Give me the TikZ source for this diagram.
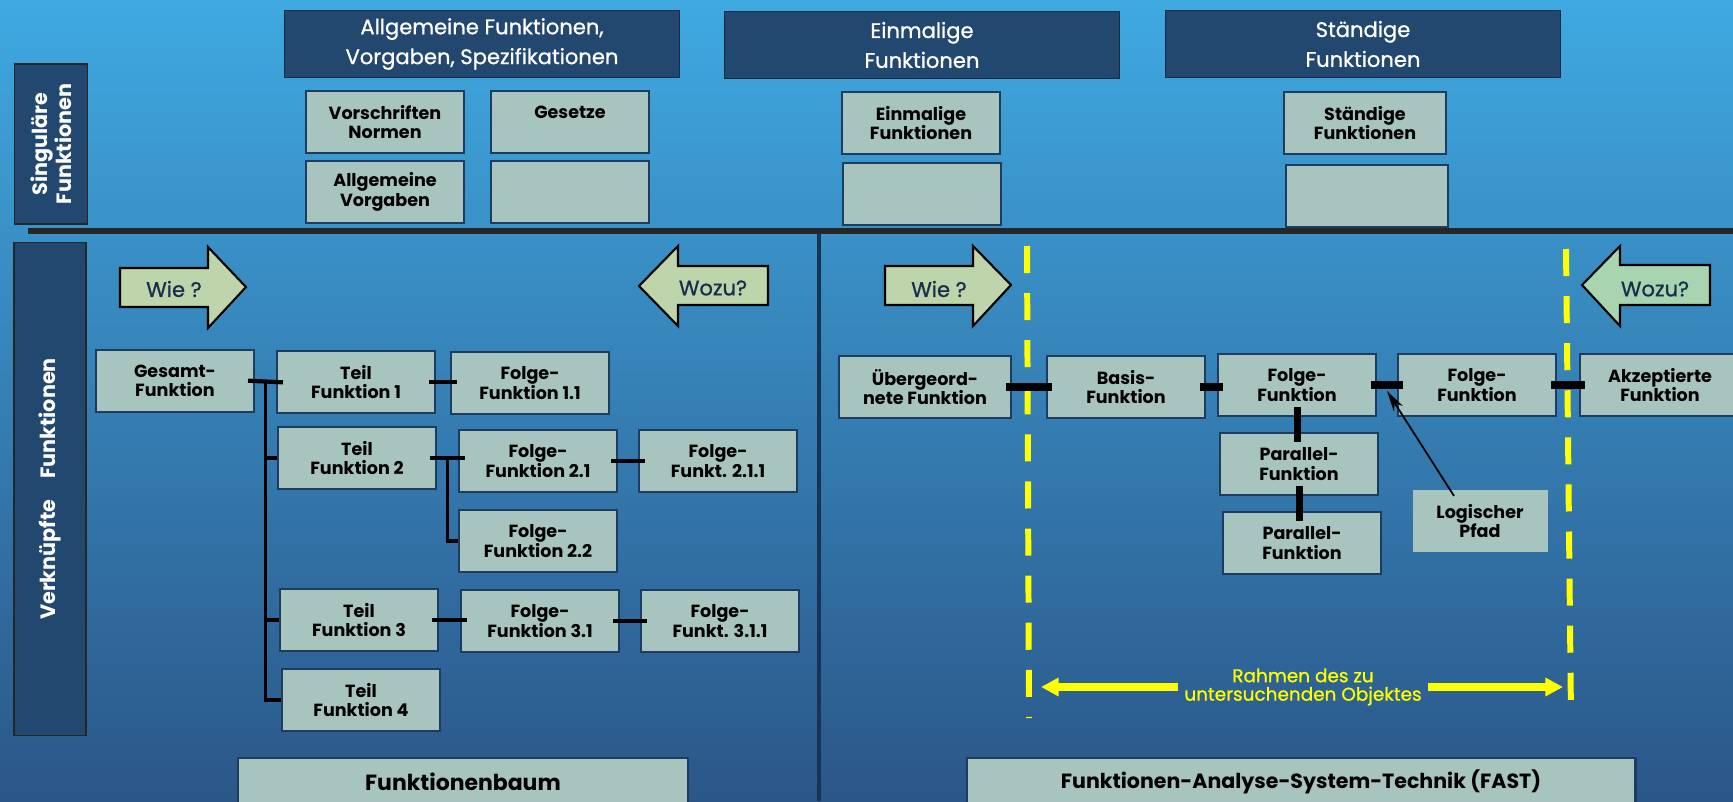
\documentclass[tikz,border=0pt]{standalone}
\usepackage{fontspec}
\setmainfont{Poppins}
\newfontfamily\mittel{Poppins}[FakeBold=0.9]
\usetikzlibrary{calc,arrows.meta}
\definecolor{hgoben}{HTML}{3FA9E1}
\definecolor{hgunten}{HTML}{2B5688}
\definecolor{kopf}{HTML}{224870}
\definecolor{kasten}{HTML}{A8C4BE}
\definecolor{rand}{HTML}{1E3C60}
\definecolor{pfeilgruen}{HTML}{BED4AA}
\definecolor{pfeilmint}{HTML}{A8D4B0}
\definecolor{schrift}{HTML}{1A2E4C}
\definecolor{gelb}{HTML}{FFFF00}
\begin{document}
\begin{tikzpicture}[x=0.02cm,y=-0.02cm,
  kopfbox/.style={draw=rand!70!black,line width=1pt,fill=kopf,text=white,align=center,
    minimum width=7.9cm,minimum height=1.34cm,font=\mittel\fontsize{12}{17}\selectfont},
  fkt/.style={draw=rand,line width=1.2pt,fill=kasten,align=center,minimum width=3.16cm,
    minimum height=1.24cm,inner sep=1pt,font=\fontsize{10}{11}\selectfont\bfseries},
  seite/.style={draw=black!85,line width=1pt,fill=kopf,text=white,align=center,rotate=90,
    font=\fontsize{11.8}{13.5}\selectfont\bfseries},
  stub/.style={line width=2.4pt,shorten <=-0.14cm,shorten >=-0.14cm},
  fstub/.style={line width=4pt,shorten <=-0.12cm,shorten >=-0.12cm},
  vstub/.style={line width=4pt,shorten <=-0.2cm,shorten >=-0.2cm},
  ast/.style={line width=2.2pt},
  pfeilform/.style={draw=black,line width=1.2pt,line join=miter},
  pfeiltext/.style={text=schrift,font=\mittel\fontsize{12}{14}\selectfont},
  rahmenlinie/.style={gelb,line width=3.4pt,dash pattern=on 15.4pt off 11.4pt},
  gelbpfeil/.style={gelb,line width=4pt,-{Triangle[length=10pt,width=10pt]}}
]
\useasboundingbox (0,0) rectangle (1733,801);
\clip (0,0) rectangle (1733,801);
\shade[top color=hgoben,bottom color=hgunten] (0,0) rectangle (1733,801);

\node[kopfbox] (allg) at (482,44) {Allgemeine Funktionen,\\Vorgaben, Spezifikationen};
\node[kopfbox] (einm) at (922,45) {Einmalige\\Funktionen};
\node[kopfbox] (staend) at (1363,44) {Ständige\\Funktionen};

\node[fkt] (vorschr) at (385,122) {Vorschriften\\Normen};
\node[fkt] (gesetze) at (570,122) {Gesetze\\\mbox{}};
\node[fkt] (allgvorg) at (385,192) {Allgemeine\\Vorgaben};
\node[fkt] (leer1) at (570,192) {};
\node[fkt] (einmfkt) at (921,123) {Einmalige\\Funktionen};
\node[fkt] (leer2) at (922,194) {};
\node[fkt,minimum width=3.24cm] (staendfkt) at (1365,123) {Ständige\\Funktionen};
\node[fkt,minimum width=3.24cm] (leer3) at (1367,196) {};

\node[seite,minimum width=3.2cm,minimum height=1.46cm] (singulaer) at (51,144) {Singuläre\\Funktionen};
\node[seite,minimum width=9.86cm,minimum height=1.44cm] (verknuepft) at (50,489) {Verknüpfte\quad Funktionen};

\draw[line width=3.4pt,black!85] (28,231) -- (1733,231);
\draw[line width=2.6pt,rand!85!black] (819,233) -- (819,801);

\draw[pfeilform,fill=pfeilgruen] (120,268) -- (208,268) -- (208,247) -- (246,287) -- (208,328) -- (208,307) -- (120,307) -- cycle;
\node[pfeiltext] (wie1) at (174,289) {Wie ?};
\draw[pfeilform,fill=pfeilgruen] (768,266) -- (678,266) -- (678,246) -- (639,286) -- (678,326) -- (678,305) -- (768,305) -- cycle;
\node[pfeiltext] (wozu1) at (713,288) {Wozu?};
\draw[pfeilform,fill=pfeilgruen] (885,266) -- (973,266) -- (973,246) -- (1011,285) -- (973,326) -- (973,305) -- (885,305) -- cycle;
\node[pfeiltext] (wie2) at (939,289) {Wie ?};
\draw[pfeilform,fill=pfeilmint] (1710,265) -- (1620,265) -- (1620,246) -- (1582,285) -- (1620,326) -- (1620,305) -- (1710,305) -- cycle;
\node[pfeiltext] (wozu2) at (1655,289) {Wozu?};

\node[fkt] (gesamt) at (175,381) {Gesamt-\\Funktion};
\node[fkt] (teil1) at (356,382) {Teil\\Funktion 1};
\node[fkt] (folge11) at (530,383) {Folge-\\Funktion 1.1};
\node[fkt] (teil2) at (357,458) {Teil\\Funktion 2};
\node[fkt] (folge21) at (538,461) {Folge-\\Funktion 2.1};
\node[fkt] (folge211) at (718,461) {Folge-\\Funkt. 2.1.1};
\node[fkt] (folge22) at (538,541) {Folge-\\Funktion 2.2};
\node[fkt] (teil3) at (359,620) {Teil\\Funktion 3};
\node[fkt] (folge31) at (540,621) {Folge-\\Funktion 3.1};
\node[fkt] (folge311) at (720,621) {Folge-\\Funkt. 3.1.1};
\node[fkt] (teil4) at (361,700) {Teil\\Funktion 4};
\node[fkt,minimum width=9cm,minimum height=0.96cm,font=\fontsize{12.5}{14}\selectfont\bfseries] (baum) at (463,782) {Funktionenbaum};

\coordinate (stamm) at ($(gesamt.east)!0.5!(teil1.west)$);
\draw[stub] (gesamt.east) -- (teil1.west);
\draw[ast] (stamm) |- (teil4.west);
\draw[ast] (stamm |- teil2.west) -- (teil2.west);
\draw[ast] (stamm |- teil3.west) -- (teil3.west);
\draw[stub] (teil1.east) -- (teil1.east -| folge11.west);
\draw[stub] (teil2.east) -- (teil2.east -| folge21.west);
\coordinate (gabel) at ($(teil2.east)!0.5!(teil2.east -| folge21.west)$);
\draw[ast] (gabel) |- (folge22.west);
\draw[stub] (folge21.east) -- (folge211.west);
\draw[stub] (teil3.east) -- (teil3.east -| folge31.west);
\draw[stub] (folge31.east) -- (folge311.west);

\draw[rahmenlinie] (1027,246) -- (1029,718);
\draw[rahmenlinie] (1566,249) -- (1571,718);

\node[fkt,minimum width=3.44cm] (uebergeord) at (925,387) {Übergeord-\\nete Funktion};
\node[fkt] (basis) at (1126,387) {Basis-\\Funktion};
\node[fkt] (ffolge1) at (1297,385) {Folge-\\Funktion};
\node[fkt] (ffolge2) at (1477,385) {Folge-\\Funktion};
\node[fkt,minimum width=3.2cm] (akzept) at (1660,385) {Akzeptierte\\Funktion};
\node[fkt] (parallel1) at (1299,464) {Parallel-\\Funktion};
\node[fkt] (parallel2) at (1302,543) {Parallel-\\Funktion};
\node[fkt,draw=none,minimum width=2.7cm] (logpfad) at (1480,521) {Logischer\\Pfad};
\node[fkt,minimum width=13.38cm,minimum height=0.96cm,font=\fontsize{11.7}{14}\selectfont\bfseries] (fast) at (1301,782) {Funktionen-Analyse-System-Technik (FAST)};

\draw[fstub] (uebergeord.east) -- (uebergeord.east -| basis.west);
\draw[fstub] (basis.east) -- (basis.east -| ffolge1.west);
\draw[fstub] (ffolge1.east) -- (ffolge2.west);
\draw[fstub] (ffolge2.east) -- (akzept.west);
\draw[vstub] (ffolge1.south) -- (ffolge1.south |- parallel1.north);
\draw[vstub] (parallel1.south) -- (parallel1.south |- parallel2.north);
\coordinate (pfadziel) at ($(ffolge1.east)!0.5!(ffolge2.west)+(0,6)$);
\draw[line width=1pt,-{Stealth[length=12pt,width=6pt]}] ($(logpfad.north)+(-26,7)$) -- (pfadziel);

\node[text=gelb,align=center,font=\mittel\fontsize{10.5}{10.5}\selectfont] (rahmentext) at (1303,687) {Rahmen des zu\\untersuchenden Objektes};
\coordinate (rahmenl) at (1041,688);
\coordinate (rahmenr) at (1563,687);
\draw[gelbpfeil] (rahmentext.west) -- (rahmentext.west -| rahmenl);
\draw[gelbpfeil] (rahmentext.east) -- (rahmentext.east -| rahmenr);
\end{tikzpicture}
\end{document}
